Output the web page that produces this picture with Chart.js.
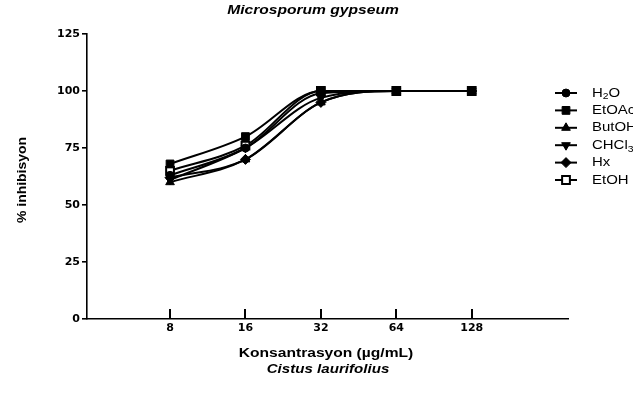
<!DOCTYPE html>
<html>
<head>
<meta charset="utf-8">
<script src="https://cdn.jsdelivr.net/npm/chart.js@4/dist/chart.umd.min.js"></script>
<style>
  html, body { margin: 0; padding: 0; background: #fff; }
  #wrap { width: 633px; height: 395px; position: relative; }
</style>
</head>
<body>
<div id="wrap"><canvas id="c" width="633" height="395"></canvas></div>
<script>
// Concentrations (µg/mL) and % inhibition for each extract
const concentrations = [8, 16, 32, 64, 128];
const h2o   = [63, 75, 99, 100, 100];
const etoac = [68, 80, 100, 100, 100];
const butoh = [60, 70, 95, 100, 100];
const chcl3 = [61, 75, 97, 100, 100];
const hx    = [62, 70, 95, 100, 100];
const etoh  = [65, 76, 100, 100, 100];

const seriesNames = ['H₂O', 'EtOAc', 'ButOH', 'CHCl₃', 'Hx', 'EtOH'];
const xTickValues = [8, 16, 32, 64, 128];
const yTickStep = 25;

const chartTitle = 'Microsporum gypseum';
const xTitle = 'Konsantrasyon (µg/mL)';
const xSubTitle = 'Cistus laurifolius';
const yTitle = '% inhibisyon';

const seriesValues = [h2o, etoac, butoh, chcl3, hx, etoh];
const markerStyles = [
  { pointStyle: 'circle',   radius: 4,   rotation: 0,   fill: '#000', border: 1 },
  { pointStyle: 'rect',     radius: 5.5, rotation: 0,   fill: '#000', border: 1 },
  { pointStyle: 'triangle', radius: 5,   rotation: 0,   fill: '#000', border: 1 },
  { pointStyle: 'triangle', radius: 5,   rotation: 180, fill: '#000', border: 1 },
  { pointStyle: 'rectRot',  radius: 5,   rotation: 0,   fill: '#000', border: 1 },
  { pointStyle: 'rect',     radius: 5.5, rotation: 0,   fill: '#fff', border: 2 }
];

const datasets = seriesValues.map((vals, i) => ({
  label: seriesNames[i],
  data: concentrations.map((c, j) => ({ x: c, y: vals[j] })),
  borderColor: '#000',
  borderWidth: 2,
  cubicInterpolationMode: 'monotone',
  pointStyle: markerStyles[i].pointStyle,
  pointRotation: markerStyles[i].rotation,
  pointRadius: markerStyles[i].radius,
  pointBackgroundColor: markerStyles[i].fill,
  pointBorderColor: '#000',
  pointBorderWidth: markerStyles[i].border,
  fill: false
}));

const SANS = '"Liberation Sans", Arial, sans-serif';

// Text drawn with a horizontal stretch factor
function wideText(ctx, text, x, y, sx) {
  ctx.save();
  ctx.translate(x, y);
  ctx.scale(sx, 1);
  ctx.fillText(text, 0, 0);
  ctx.restore();
}

// Draws text, rendering subscript digits smaller and lowered
function drawRichText(ctx, text, x, y, size, sx) {
  const subs = '₀₁₂₃₄₅₆₇₈₉';
  ctx.save();
  ctx.translate(x, y);
  ctx.scale(sx, 1);
  let cx = 0;
  for (const ch of text) {
    const k = subs.indexOf(ch);
    if (k >= 0) {
      ctx.font = Math.round(size * 0.72) + 'px ' + SANS;
      ctx.fillText(String(k), cx, size * 0.3);
      cx += ctx.measureText(String(k)).width;
    } else {
      ctx.font = size + 'px ' + SANS;
      ctx.fillText(ch, cx, 0);
      cx += ctx.measureText(ch).width;
    }
  }
  ctx.restore();
}

const decorations = {
  id: 'decorations',
  afterDraw(chart) {
    const ctx = chart.ctx;
    const xs = chart.scales.x;
    const area = chart.chartArea;
    ctx.save();
    // inward tick marks on the x axis
    ctx.strokeStyle = '#000';
    ctx.lineWidth = 2;
    xs.ticks.forEach(t => {
      const px = Math.round(xs.getPixelForValue(t.value));
      ctx.beginPath();
      ctx.moveTo(px, area.bottom - 10);
      ctx.lineTo(px, area.bottom);
      ctx.stroke();
    });

    ctx.fillStyle = '#000';
    ctx.textBaseline = 'middle';
    ctx.textAlign = 'center';
    ctx.font = 'bold italic 12px ' + SANS;
    wideText(ctx, chartTitle, 313, 11, 1.3);
    ctx.font = 'bold 12px ' + SANS;
    wideText(ctx, xTitle, 326, 354, 1.3);
    ctx.font = 'bold italic 12px ' + SANS;
    wideText(ctx, xSubTitle, 328, 370, 1.26);

    ctx.save();
    ctx.translate(23, 180);
    ctx.rotate(-Math.PI / 2);
    ctx.font = 'bold 12px ' + SANS;
    wideText(ctx, yTitle, 0, 0, 1.16);
    ctx.restore();

    // legend
    const lx0 = 555, lx1 = 577, mx = 566, tx = 592;
    ctx.textAlign = 'left';
    chart.data.datasets.forEach((ds, i) => {
      const y = 93 + i * 17.4;
      ctx.strokeStyle = '#000';
      ctx.lineWidth = 2;
      ctx.beginPath();
      ctx.moveTo(lx0, y);
      ctx.lineTo(lx1, y);
      ctx.stroke();
      ctx.fillStyle = ds.pointBackgroundColor;
      ctx.strokeStyle = '#000';
      ctx.lineWidth = ds.pointBorderWidth;
      Chart.helpers.drawPoint(ctx, {
        pointStyle: ds.pointStyle,
        rotation: ds.pointRotation,
        radius: ds.pointRadius,
        borderWidth: ds.pointBorderWidth
      }, mx, y);
      ctx.fillStyle = '#000';
      drawRichText(ctx, ds.label, tx, y, 13, 1.15);
    });
    ctx.restore();
  }
};

new Chart(document.getElementById('c'), {
  type: 'line',
  data: { datasets },
  options: {
    responsive: false,
    animation: false,
    layout: { padding: { top: 34, right: 65, left: 0, bottom: 0 } },
    plugins: { legend: { display: false }, tooltip: { enabled: false }, title: { display: false } },
    scales: {
      x: {
        type: 'logarithmic',
        min: 3.73,
        max: 310,
        afterBuildTicks: s => { s.ticks = xTickValues.map(v => ({ value: v })); },
        afterFit: s => { s.height = 76; },
        grid: { display: false, drawTicks: false },
        border: { display: true, color: '#000', width: 1.6 },
        ticks: {
          autoSkip: false, maxRotation: 0, padding: 3, color: '#000',
          font: { family: '"DejaVu Sans", sans-serif', weight: 'bold', size: 11 },
          callback: v => String(v)
        }
      },
      y: {
        min: 0,
        max: 125,
        afterFit: s => { s.width = 87; },
        grid: { drawOnChartArea: false, drawTicks: true, tickLength: 5, color: '#000', lineWidth: 1.6 },
        border: { display: true, color: '#000', width: 1.6 },
        ticks: {
          stepSize: yTickStep, padding: 2, color: '#000',
          font: { family: '"DejaVu Sans", sans-serif', weight: 'bold', size: 11 }
        }
      }
    }
  },
  plugins: [decorations]
});
</script>
</body>
</html>
